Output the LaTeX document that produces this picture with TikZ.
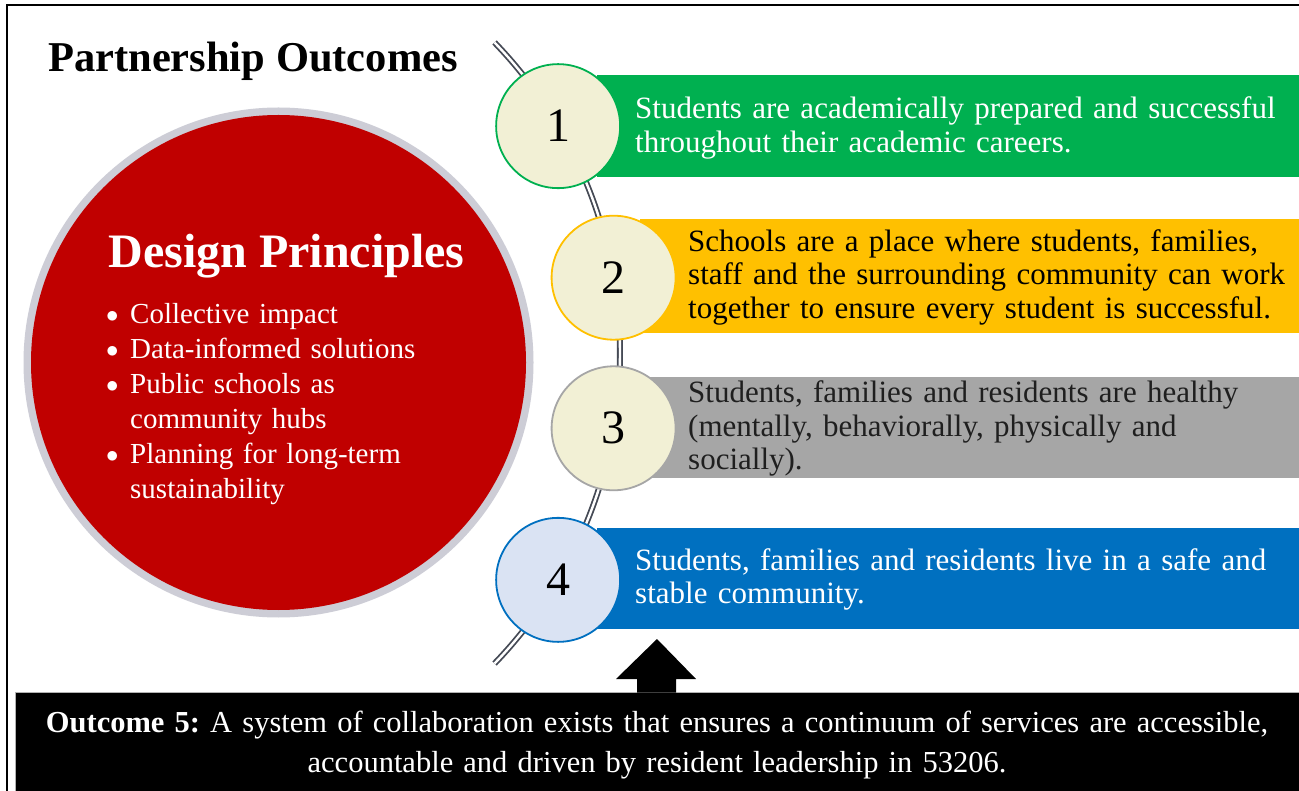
\documentclass[tikz,border=0pt]{standalone}
\usepackage{fontspec}
\setmainfont{Liberation Serif}
\frenchspacing
\definecolor{cgreen}{HTML}{00B050}
\definecolor{corange}{HTML}{FFC000}
\definecolor{cgray}{HTML}{A6A6A6}
\definecolor{cblue}{HTML}{0070C0}
\definecolor{cream}{HTML}{F2F0D5}
\definecolor{lblue}{HTML}{DAE3F3}
\definecolor{cred}{HTML}{C00000}
\definecolor{halo}{HTML}{CDCDD6}
\definecolor{spinec}{HTML}{454A55}
\newcommand{\bulmark}{\makebox[24pt][l]{\raisebox{0.5pt}{\fontsize{40}{40}\selectfont$\bullet$}}}
\newcommand{\bitem}[1]{\hangindent=24pt\hangafter=1\noindent\bulmark#1\par}
\begin{document}
\begin{tikzpicture}[x=1pt,y=-1pt,
  bar/.style={anchor=north west, inner sep=0pt, outer sep=0pt},
  numc/.style={circle, minimum size=124pt, line width=1.8pt, fill=cream, inner sep=0pt, font=\fontsize{48}{54}\selectfont},
  bartext/.style={anchor=west, text width=700pt, align=left, inner sep=0pt, font=\fontsize{31}{33.5}\selectfont},
  bultext/.style={anchor=north west, text width=400pt, inner sep=0pt, text=white, font=\fontsize{29}{35}\selectfont}]
\useasboundingbox (0,0) rectangle (1299,791);
\fill[white] (0,0) rectangle (1299,791);
% frame
\draw[line width=2pt] (7,791) -- (7,5) -- (1299,5);
% title
\node[anchor=base west, inner sep=0pt, font=\fontsize{42.5}{48}\selectfont\bfseries] (title) at (48,72) {Partnership Outcomes};
% red circle
\node[circle, fill=halo, minimum size=510pt, inner sep=0pt] (halo) at (278.5,362.5) {};
\node[circle, fill=cred, minimum size=495pt, inner sep=0pt] (dp) at (278.5,362.5) {};
\node[anchor=base, inner sep=0pt, text=white, font=\fontsize{48}{54}\selectfont\bfseries] (dptitle) at (286.5,268) {Design Principles};
\node[bultext] (dplist) at (106,303) {\bitem{Collective impact}\bitem{Data-informed solutions}\bitem{Public schools as\newline community hubs}\bitem{Planning for long-term\newline sustainability}};
% spine
\draw[draw=spinec, line width=1.8pt, double=white, double distance=2.4pt] plot[domain=-44:44, samples=90, smooth] ({173+447*cos(\x)},{353+447*sin(\x)});
% bars
\node[bar, fill=cgreen, minimum width=702pt, minimum height=102pt] (b1) at (597,75) {};
\node[bar, fill=corange, minimum width=659pt, minimum height=114pt] (b2) at (640,219) {};
\node[bar, fill=cgray, minimum width=659pt, minimum height=101pt] (b3) at (640,377) {};
\node[bar, fill=cblue, minimum width=702pt, minimum height=101pt] (b4) at (597,528) {};
\node[bartext, text=white] (t1) at (635,128) {Students are academically prepared and successful\\throughout their academic careers.};
\node[bartext, text=black] (t2) at (688,277) {Schools are a place where students, families,\\staff and the surrounding community can work\\together to ensure every student is successful.};
\node[bartext, text=black!88] (t3) at (688,428.5) {Students, families and residents are healthy\\(mentally, behaviorally, physically and\\socially).};
\node[bartext, text=white] (t4) at (635,579.5) {Students, families and residents live in a safe and\\stable community.};
% number circles
\node[numc, draw=cgreen] (n1) at ({173+447*cos(-30.5)},{353+447*sin(-30.5)}) {1};
\node[numc, draw=corange] (n2) at ({173+447*cos(-9.7)},{353+447*sin(-9.7)}) {2};
\node[numc, draw=cgray] (n3) at ({173+447*cos(9.7)},{353+447*sin(9.7)}) {3};
\node[numc, draw=cblue, fill=lblue] (n4) at ({173+447*cos(30.5)},{353+447*sin(30.5)}) {4};
% outcome 5 box
\node[bar, fill=black, draw=gray!60, line width=0.8pt, minimum width=1290pt, minimum height=105pt] (o5) at (15,692) {};
\fill[black] (657,639) -- (696,679) -- (676,679) -- (676,692.5) -- (637,692.5) -- (637,679) -- (616,679) -- cycle;
\node[anchor=center, inner sep=0pt, text=white, align=center, text width=1280pt, font=\fontsize{30.5}{40}\selectfont] (o5t) at (657,745) {\textbf{Outcome 5:} A system of collaboration exists that ensures a continuum of services are accessible,\\accountable and driven by resident leadership in 53206.};
\end{tikzpicture}
\end{document}
